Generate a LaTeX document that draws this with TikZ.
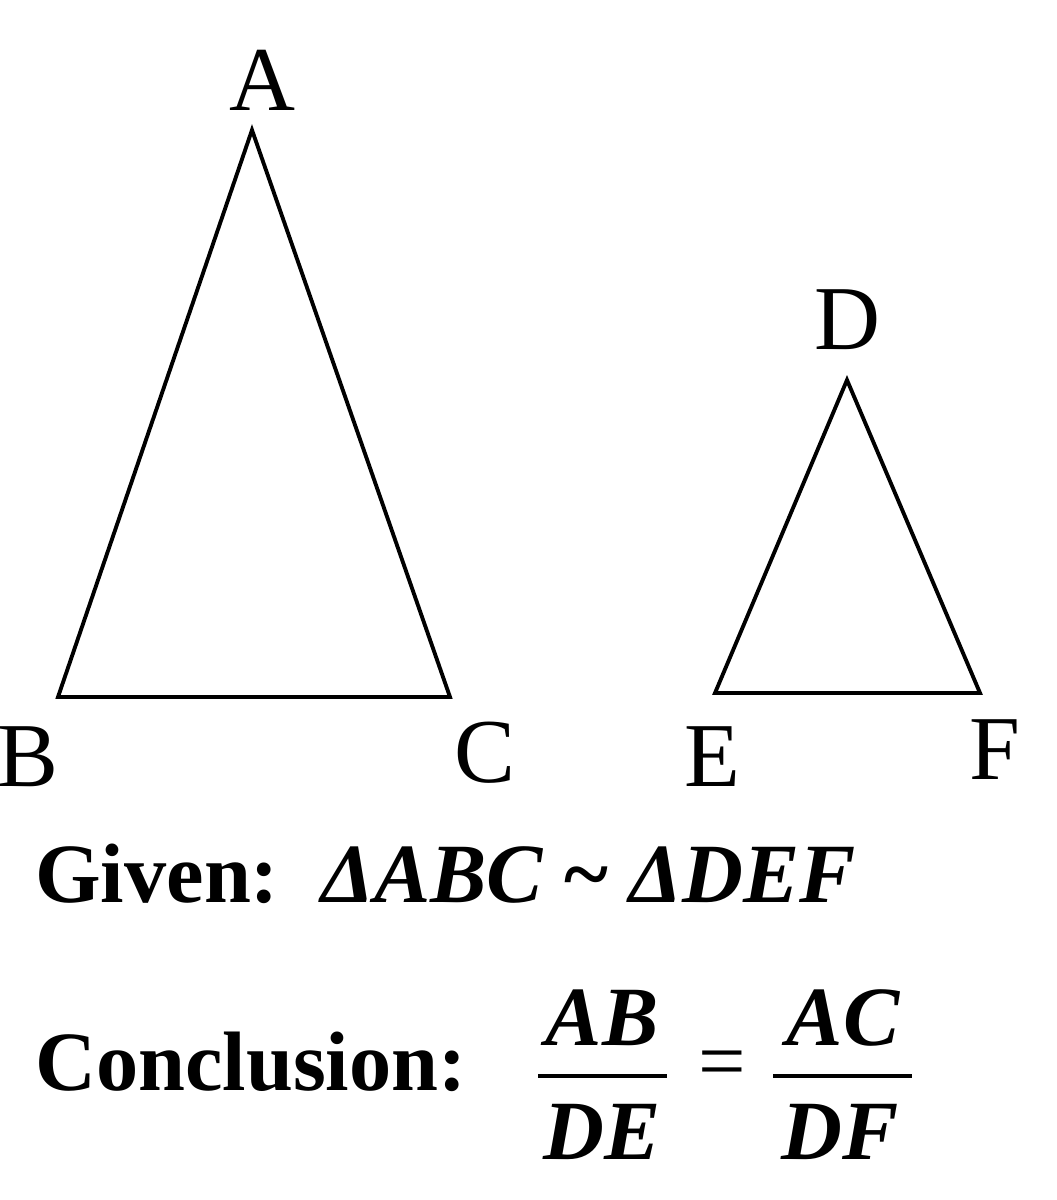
\documentclass[tikz,border=0pt]{standalone}
\usepackage{fontspec}
\setmainfont{Liberation Serif}
\begin{document}
\begin{tikzpicture}[x=0.02cm,y=-0.02cm,
    vlabel/.style={font=\fontsize{52}{60}\selectfont},
    sentence/.style={font=\fontsize{48}{56}\selectfont\bfseries,anchor=base west,inner sep=0pt},
    fracpart/.style={font=\fontsize{48}{56}\selectfont\bfseries\itshape}]
    \useasboundingbox (0,0) rectangle (1056,1200);
    % triangle ABC
    \coordinate (A) at (252,130);
    \coordinate (B) at (58,697);
    \coordinate (C) at (450,697);
    \draw[line width=2.2pt,line join=miter] (A) -- (B) -- (C) -- cycle;
    % triangle DEF
    \coordinate (D) at (847,380);
    \coordinate (E) at (715,693);
    \coordinate (F) at (980,693);
    \draw[line width=2.2pt,line join=miter] (D) -- (E) -- (F) -- cycle;
    % vertex labels
    \node[vlabel] (lA) at (262,80) {A};
    \node[vlabel] (lB) at (28,757) {B};
    \node[vlabel] (lC) at (485,753) {C};
    \node[vlabel] (lD) at (847,320) {D};
    \node[vlabel] (lE) at (712,757) {E};
    \node[vlabel] (lF) at (995,750) {F};
    % given and conclusion
    \node[sentence] (given) at (35,902) {Given:\ \ \textit{ΔABC}\ \textasciitilde\ \textit{ΔDEF}};
    \node[sentence] (concl) at (35,1090) {Conclusion:};
    \node[fracpart] (ab) at (602,1018) {AB};
    \node[fracpart] (de) at (602,1132) {DE};
    \node[fracpart] (ac) at (843,1018) {AC};
    \node[fracpart] (df) at (840,1132) {DF};
    \node[font=\fontsize{48}{56}\selectfont] (eq) at (722,1070) {=};
    \coordinate (l1) at (538,1076); \coordinate (r1) at (667,1076);
    \coordinate (l2) at (773,1076); \coordinate (r2) at (912,1076);
    \draw[line width=1.8pt] (l1) -- (r1);
    \draw[line width=1.8pt] (l2) -- (r2);
\end{tikzpicture}
\end{document}
